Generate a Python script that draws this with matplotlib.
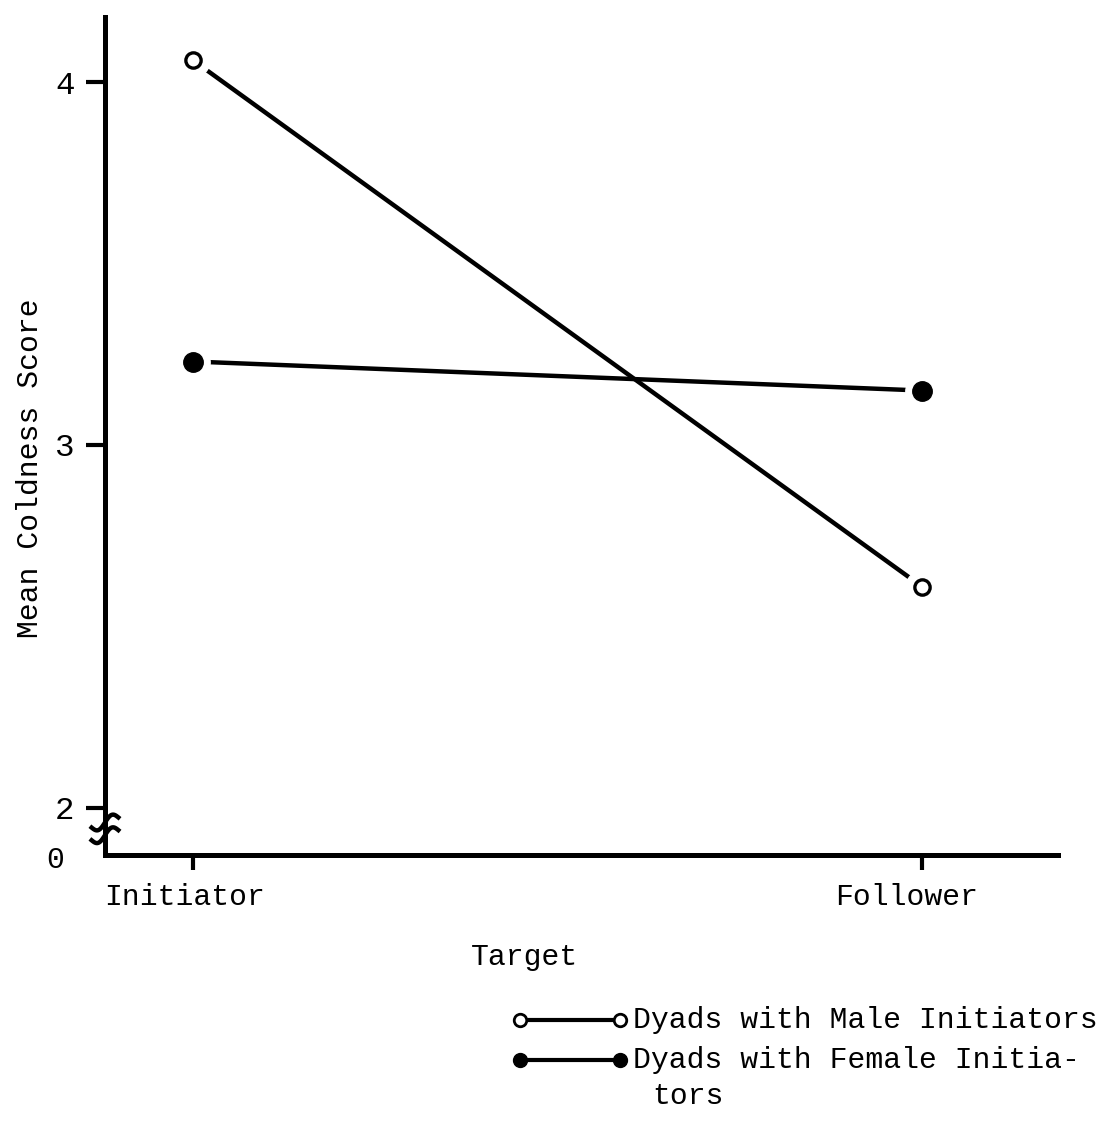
import numpy as np
import matplotlib.pyplot as plt
import matplotlib.transforms as mtransforms

# data
targets = ["Initiator", "Follower"]
male_scores = [4.06, 2.61]
female_scores = [3.23, 3.15]
y_ticks = [2, 3, 4]
y_ticklabels = ["2", "3", "4"]

plt.rcParams["font.family"] = ["Liberation Mono", "DejaVu Sans Mono"]
FS = 21.4

fig = plt.figure(figsize=(11.12, 11.21), dpi=100)
ax = fig.add_axes([0.0944, 0.2373, 0.857, 0.7475])

xs = np.arange(len(targets))

# lines first, then white halos so the line stops short of the markers
ax.plot(xs, male_scores, color="black", lw=3.2, solid_capstyle="round", zorder=2)
ax.plot(xs, female_scores, color="black", lw=3.2, solid_capstyle="round", zorder=2)
for ys in (male_scores, female_scores):
    ax.plot(xs, ys, "o", ms=24, color="white", mec="white", zorder=3)
ax.plot(xs, male_scores, "o", ms=11, mfc="white", mec="black", mew=2.4, zorder=4)
ax.plot(xs, female_scores, "o", ms=14, mfc="black", mec="black", zorder=4)

ax.set_xlim(-0.1207, 1.1866)
ax.set_ylim(1.8705, 4.179)

ax.spines["top"].set_visible(False)
ax.spines["right"].set_visible(False)
ax.spines["left"].set_linewidth(3.6)
ax.spines["bottom"].set_linewidth(3.6)

ax.set_xticks(xs)
ax.set_xticklabels(targets, fontsize=FS)
ax.set_yticks(y_ticks)
ax.set_yticklabels(y_ticklabels, fontsize=FS + 2)
ax.tick_params(axis="y", direction="out", length=14, width=3.0, pad=8)
ax.tick_params(axis="x", direction="out", length=11, width=3.0, pad=9)

# typed labels sit a little left of their ticks
for lab, dx in zip(ax.get_xticklabels(), (-8, -15)):
    lab.set_transform(lab.get_transform() + mtransforms.ScaledTranslation(dx / 100, 0, fig.dpi_scale_trans))

trans = mtransforms.blended_transform_factory(ax.transAxes, ax.transData)

# the "0" at the broken origin
ax.text(-0.052, 1.857, "0", transform=trans, fontsize=FS, ha="center", va="center")

# axis break squiggles
t = np.linspace(-1, 1, 30)
for yc in (1.96, 1.925):
    ax.plot(0.0 + 0.014 * t, yc + 0.014 * np.sin(np.pi * t) + 0.014 * t,
            color="black", lw=3.2, transform=trans, clip_on=False, zorder=5)

ax.set_ylabel("Mean Coldness Score", fontsize=FS)
ax.yaxis.set_label_coords(-0.064, 0.462)
fig.text(0.472, 0.146, "Target", fontsize=FS, ha="center", va="center")

# legend drawn by hand, typewriter style
lx0, lx1 = 0.468, 0.558
fig.lines.append(plt.Line2D([lx0 + 0.008, lx1 - 0.008], [0.090, 0.090], color="black", lw=3.0,
                            transform=fig.transFigure))
fig.lines.append(plt.Line2D([lx0, lx1], [0.090, 0.090], ls="none", marker="o", ms=9,
                            mfc="white", mec="black", mew=2.0, transform=fig.transFigure))
fig.text(0.569, 0.090, "Dyads with Male Initiators", fontsize=FS, va="center")

fig.lines.append(plt.Line2D([lx0 + 0.008, lx1 - 0.008], [0.054, 0.054], color="black", lw=3.0,
                            transform=fig.transFigure))
fig.lines.append(plt.Line2D([lx0, lx1], [0.054, 0.054], ls="none", marker="o", ms=10,
                            mfc="black", mec="black", transform=fig.transFigure))
fig.text(0.569, 0.054, "Dyads with Female Initia-", fontsize=FS, va="center")
fig.text(0.587, 0.022, "tors", fontsize=FS, va="center")

fig.savefig("out.png", dpi=100, facecolor="white")
